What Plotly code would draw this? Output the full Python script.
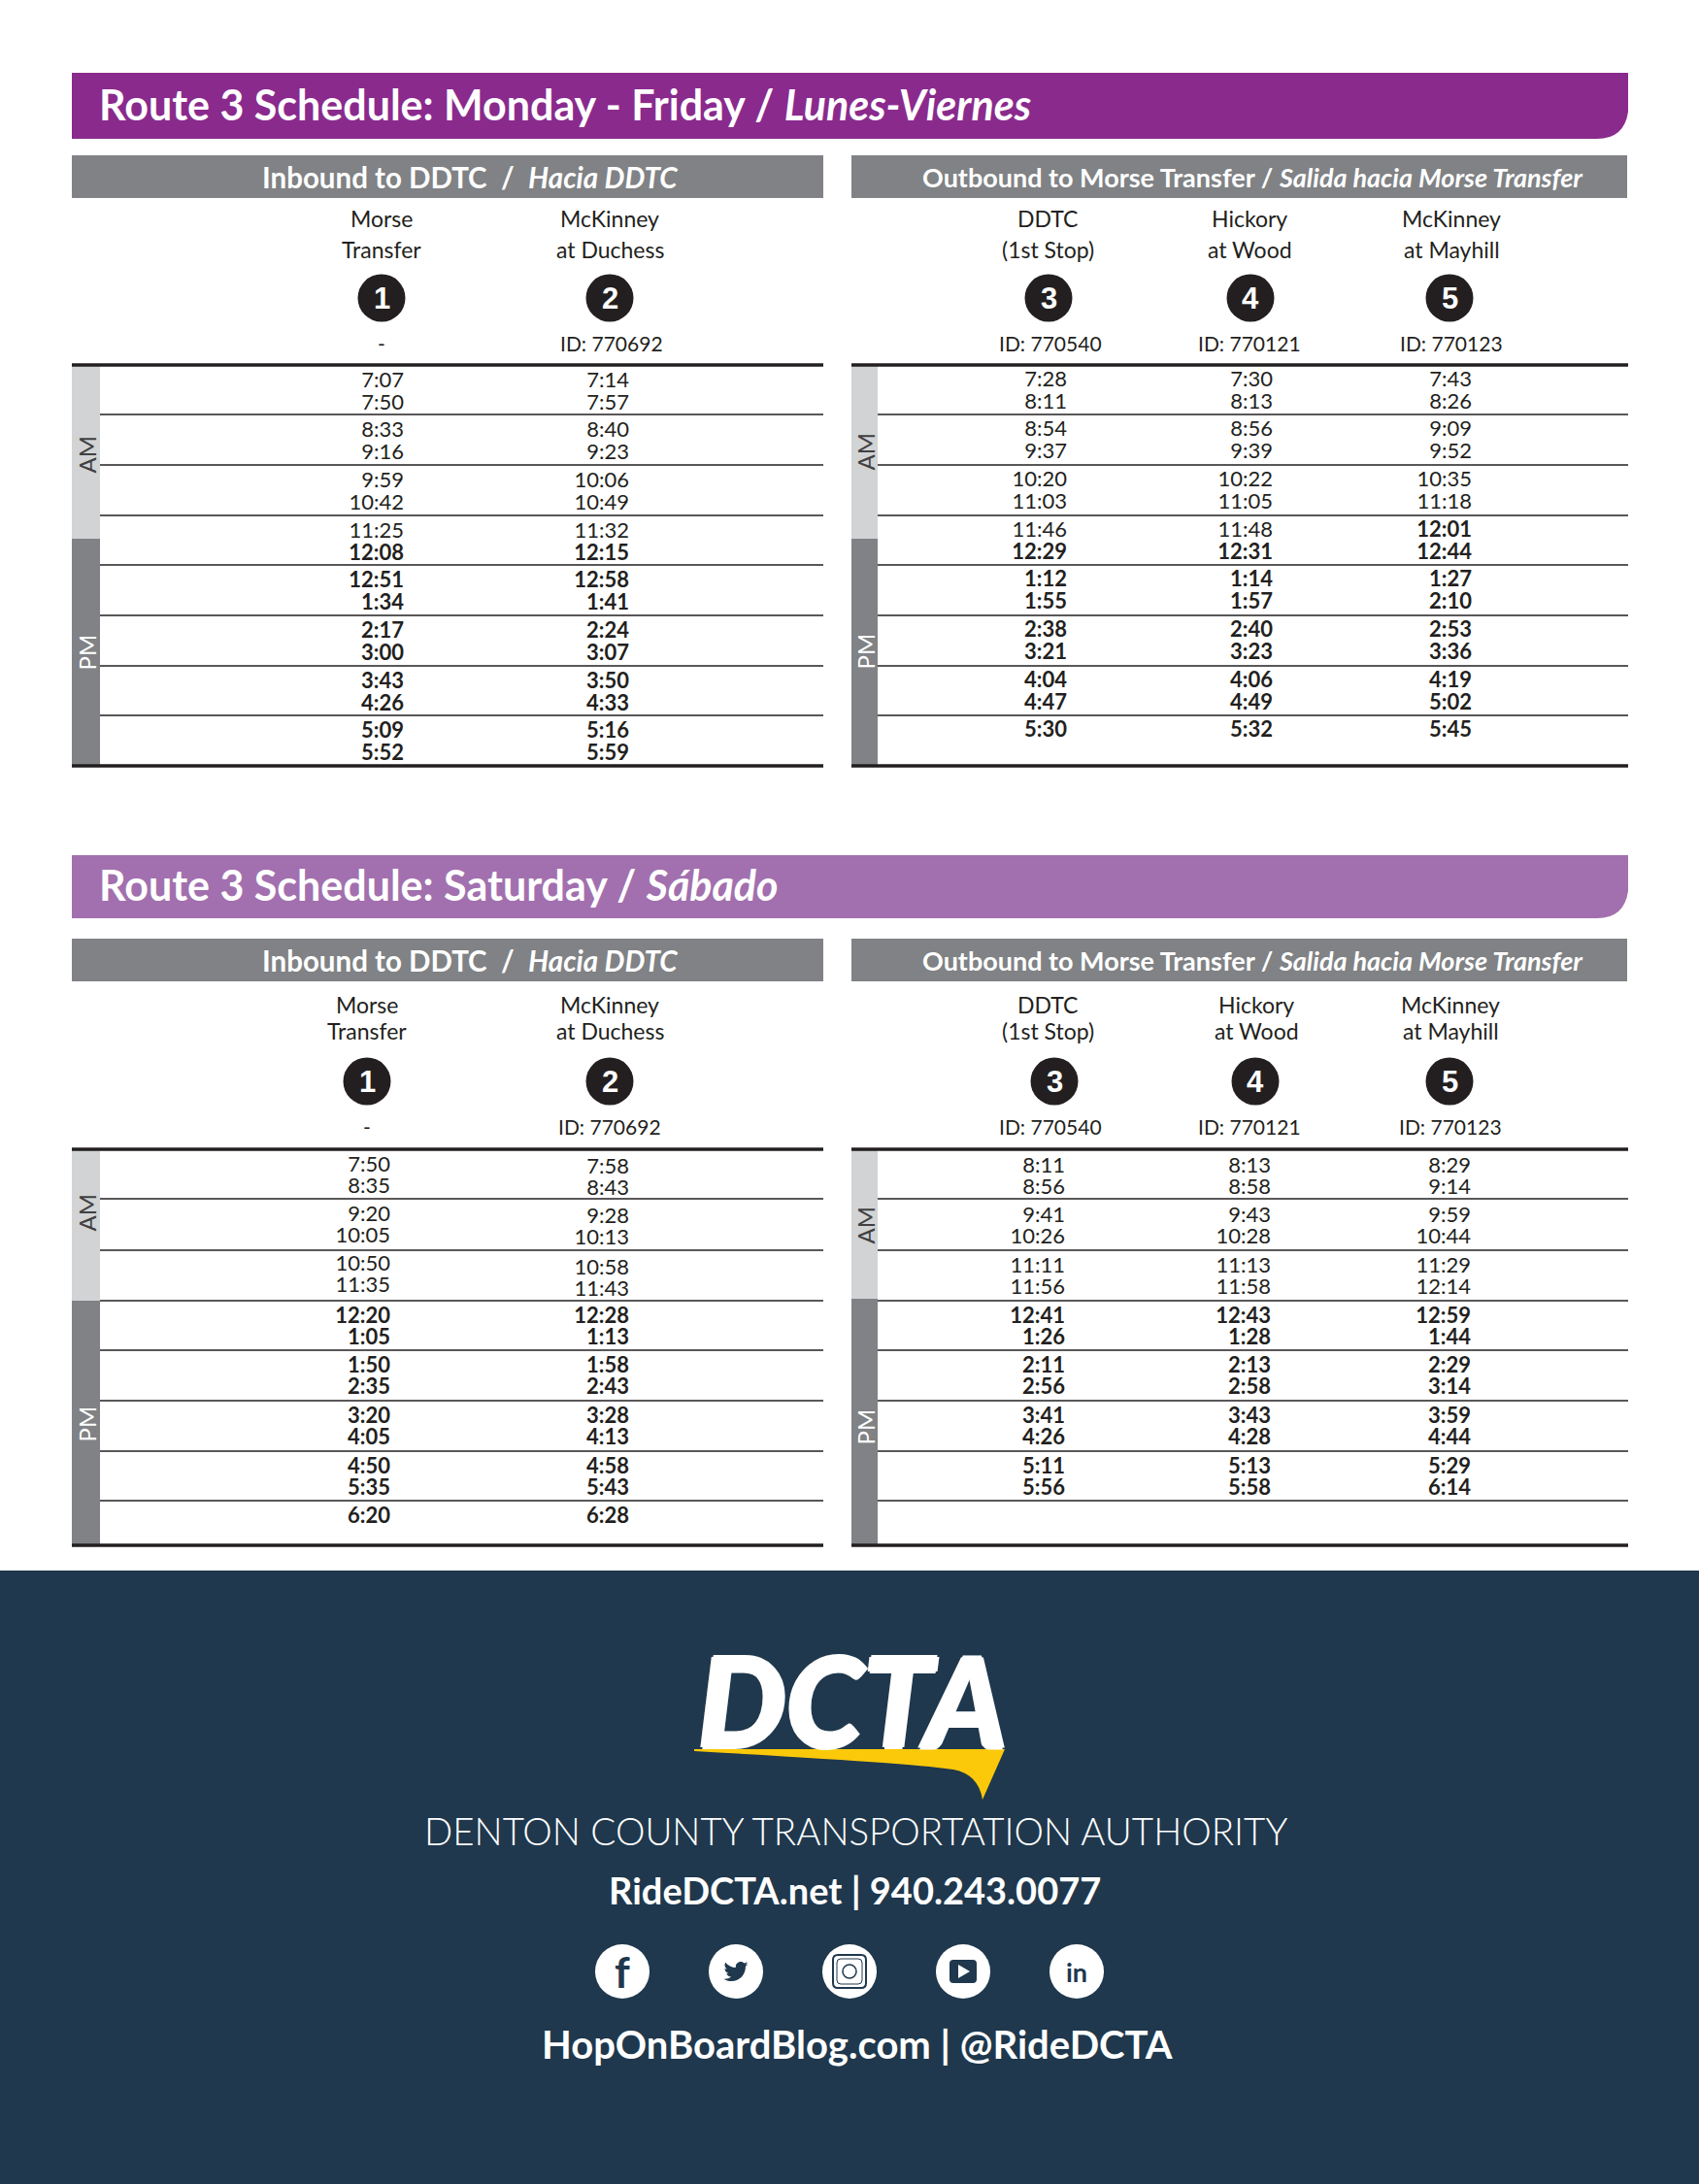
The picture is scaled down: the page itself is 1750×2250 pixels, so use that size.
import plotly.express as px
import pandas as pd

FONT = "Lato"
INK = "#231F20"
GREY = "#808285"
LIGHT = "#D1D3D4"
NAVY = "#1F384D"
GOLD = "#FBC90A"

BIRD = ("M24 4.6 C23.1 5 22.2 5.3 21.2 5.4 C22.2 4.8 23 3.8 23.4 2.7 C22.4 3.3 21.4 3.7 20.3 3.9 "
        "C19.4 2.9 18.1 2.3 16.7 2.3 C14 2.3 11.8 4.5 11.8 7.2 C11.8 7.6 11.8 8 11.9 8.3 "
        "C7.8 8.1 4.2 6.2 1.7 3.1 C1.3 3.8 1 4.6 1 5.5 C1 7.2 1.9 8.7 3.2 9.6 C2.4 9.6 1.6 9.4 1 9 "
        "L1 9.1 C1 11.5 2.7 13.4 4.9 13.9 C4.1 14.1 3.3 14.1 2.7 14 C3.3 16 5.1 17.4 7.3 17.4 "
        "C5.6 18.7 3.5 19.5 1.2 19.5 C0.8 19.5 0.4 19.5 0 19.4 C2.2 20.8 4.8 21.6 7.5 21.6 "
        "C16.6 21.6 21.5 14.1 21.5 7.6 L21.5 7 C22.5 6.3 23.3 5.5 24 4.6 Z")

# Schedules, times in reading order, bold from "pm" on
WEEKDAY = dict(
    banner="Route 3 Schedule: Monday - Friday / <i>Lunes-Viernes</i>", color="#8A2A8D", top=75, bottom=143,
    head_top=160, head_bottom=204, name_y=(225, 257), dot_y=307, id_y=353, rule=376, end=789,
    rows=[376, 427, 479, 531, 582, 634, 686, 737],
    split=(555, 555), am_y=(468, 465), pm_y=(672, 671), first=17, second=40,
    columns=[
        dict(name=("Morse", "Transfer"), num=1, stop="-", cx=393, nx=393, idx=393, right=416, pm=7, nudge=[0] * 8,
             times="7:07 7:50 8:33 9:16 9:59 10:42 11:25 12:08 12:51 1:34 2:17 3:00 3:43 4:26 5:09 5:52"),
        dict(name=("McKinney", "at Duchess"), num=2, stop="ID: 770692", cx=628, nx=628, idx=630, right=648, pm=7,
             nudge=[0] * 8,
             times="7:14 7:57 8:40 9:23 10:06 10:49 11:32 12:15 12:58 1:41 2:24 3:07 3:50 4:33 5:16 5:59"),
        dict(name=("DDTC", "(1st Stop)"), num=3, stop="ID: 770540", cx=1080, nx=1079, idx=1082, right=1099, pm=7,
             nudge=[-1] * 8,
             times="7:28 8:11 8:54 9:37 10:20 11:03 11:46 12:29 1:12 1:55 2:38 3:21 4:04 4:47 5:30"),
        dict(name=("Hickory", "at Wood"), num=4, stop="ID: 770121", cx=1288, nx=1287, idx=1287, right=1311, pm=7,
             nudge=[-1] * 8,
             times="7:30 8:13 8:56 9:39 10:22 11:05 11:48 12:31 1:14 1:57 2:40 3:23 4:06 4:49 5:32"),
        dict(name=("McKinney", "at Mayhill"), num=5, stop="ID: 770123", cx=1493, nx=1495, idx=1495, right=1516, pm=6,
             nudge=[-1] * 8,
             times="7:43 8:26 9:09 9:52 10:35 11:18 12:01 12:44 1:27 2:10 2:53 3:36 4:19 5:02 5:45"),
    ])

SATURDAY = dict(
    banner="Route 3 Schedule: Saturday / <i>Sábado</i>", color="#A270AE", top=881, bottom=946,
    head_top=967, head_bottom=1011, name_y=(1035, 1062), dot_y=1114, id_y=1160, rule=1184, end=1592,
    rows=[1184, 1235, 1288, 1340, 1391, 1443, 1495, 1546],
    split=(1340, 1338), am_y=(1249, 1262), pm_y=(1467, 1470), first=17, second=39,
    columns=[
        dict(name=("Morse", "Transfer"), num=1, stop="-", cx=378, nx=378, idx=378, right=402, pm=6,
             nudge=[0, 0, -2, 0, 0, 0, 0, 0],
             times="7:50 8:35 9:20 10:05 10:50 11:35 12:20 1:05 1:50 2:35 3:20 4:05 4:50 5:35 6:20"),
        dict(name=("McKinney", "at Duchess"), num=2, stop="ID: 770692", cx=628, nx=628, idx=628, right=648, pm=6,
             nudge=[2, 2, 2, 0, 0, 0, 0, 0],
             times="7:58 8:43 9:28 10:13 10:58 11:43 12:28 1:13 1:58 2:43 3:28 4:13 4:58 5:43 6:28"),
        dict(name=("DDTC", "(1st Stop)"), num=3, stop="ID: 770540", cx=1086, nx=1079, idx=1082, right=1097, pm=6,
             nudge=[1, 1, 0, 0, 0, 0, 0, 0],
             times="8:11 8:56 9:41 10:26 11:11 11:56 12:41 1:26 2:11 2:56 3:41 4:26 5:11 5:56"),
        dict(name=("Hickory", "at Wood"), num=4, stop="ID: 770121", cx=1293, nx=1294, idx=1287, right=1309, pm=6,
             nudge=[1, 1, 0, 0, 0, 0, 0, 0],
             times="8:13 8:58 9:43 10:28 11:13 11:58 12:43 1:28 2:13 2:58 3:43 4:28 5:13 5:58"),
        dict(name=("McKinney", "at Mayhill"), num=5, stop="ID: 770123", cx=1493, nx=1494, idx=1494, right=1515, pm=6,
             nudge=[1, 1, 0, 0, 0, 0, 0, 0],
             times="8:29 9:14 9:59 10:44 11:29 12:14 12:59 1:44 2:29 3:14 3:59 4:44 5:29 6:14"),
    ])


def time_table(schedule):
    rows = []
    for col in schedule["columns"]:
        for i, t in enumerate(col["times"].split()):
            top = schedule["rows"][i // 2] + col["nudge"][i // 2]
            rows.append(dict(
                x=col["right"],
                y=top + (schedule["second"] if i % 2 else schedule["first"]),
                time=f"<b>{t}</b>" if i >= col["pm"] else t))
    return pd.DataFrame(rows)


def label(fig, x, y, text, size, color=INK, angle=0, weight=None, family=FONT):
    fig.add_annotation(x=x, y=y, text=text, showarrow=False, textangle=angle,
                       font=dict(family=family, size=size, color=color, weight=weight))


def box(fig, x0, y0, x1, y1, color):
    fig.add_shape(type="rect", x0=x0, y0=y0, x1=x1, y1=y1, fillcolor=color, line_width=0)


def rule(fig, x0, x1, y, width):
    fig.add_shape(type="line", x0=x0, x1=x1, y0=y, y1=y, line=dict(color=INK, width=width))


def disc(fig, x, y, r, color):
    fig.add_shape(type="circle", x0=x - r, x1=x + r, y0=y - r, y1=y + r, fillcolor=color, line_width=0)


def draw_schedule(fig, s):
    b, t = s["bottom"], s["top"]
    fig.add_shape(type="path", line_width=0, fillcolor=s["color"],
                  path=f"M74 {t} L1677 {t} L1677 {b-28} Q1673 {b} 1645 {b} L74 {b} Z")
    fig.add_annotation(x=100, y=(t + b) / 2 - 2, text=f"<b>{s['banner']}</b>", showarrow=False, xanchor="left",
                       font=dict(family=FONT, size=43, color="white"))

    box(fig, 74, s["head_top"], 848, s["head_bottom"], GREY)
    box(fig, 877, s["head_top"], 1676, s["head_bottom"], GREY)
    mid = (s["head_top"] + s["head_bottom"]) / 2
    label(fig, 484, mid, "<b>Inbound to DDTC  /  <i>Hacia DDTC</i></b>", 29.5, "white")
    label(fig, 1290, mid, "<b>Outbound to Morse Transfer / <i>Salida hacia Morse Transfer</i></b>", 27, "white")

    for col in s["columns"]:
        label(fig, col["nx"], s["name_y"][0], col["name"][0], 23)
        label(fig, col["nx"], s["name_y"][1], col["name"][1], 23)
        disc(fig, col["cx"], s["dot_y"], 24.5, INK)
        label(fig, col["cx"], s["dot_y"], str(col["num"]), 31, "white", weight=700, family="Liberation Sans")
        label(fig, col["idx"], s["id_y"], col["stop"], 21)

    for i, (x0, x1, right) in enumerate([(74, 103, 848), (877, 904, 1677)]):
        box(fig, x0, s["rule"], x1, s["split"][i], LIGHT)
        box(fig, x0, s["split"][i], x1, s["end"], GREY)
        label(fig, (x0 + x1) / 2, s["am_y"][i], "AM", 24, "#414042", angle=-90)
        label(fig, (x0 + x1) / 2, s["pm_y"][i], "PM", 24, "white", angle=-90)
        for y in s["rows"][1:]:
            rule(fig, x1, right, y, 1.3)
        rule(fig, x0, right, s["rule"], 3.5)
        rule(fig, x0, right, s["end"], 3.5)


def rounded(x, y, w, h, r):
    return (f"M{x-w+r} {y-h} L{x+w-r} {y-h} Q{x+w} {y-h} {x+w} {y-h+r} L{x+w} {y+h-r} Q{x+w} {y+h} {x+w-r} {y+h} "
            f"L{x-w+r} {y+h} Q{x-w} {y+h} {x-w} {y+h-r} L{x-w} {y-h+r} Q{x-w} {y-h} {x-w+r} {y-h} Z")


def bird_path(x, y, size):
    # icon is drawn on a 24 by 24 grid
    out, axis = [], 0
    for tok in BIRD.replace("C", "C ").replace("L", "L ").replace("M", "M ").split():
        if tok.isalpha():
            out.append(tok)
        else:
            base = (x if axis == 0 else y) - size / 2
            out.append(f"{base + float(tok) * size / 24:.1f}")
            axis = 1 - axis
    return " ".join(out)


def draw_footer(fig):
    box(fig, 0, 1618, 1750, 2250, NAVY)

    # logo, thickened with a shadow since no font here is that heavy
    fig.add_annotation(x=878, y=1750, text="<i>DCTA</i>", showarrow=False,
                       font=dict(family=FONT, size=128, color="white", weight=900,
                                 shadow="2px 0 0 white, -2px 0 0 white, 0 2px 0 white, 0 -2px 0 white"))
    fig.add_shape(type="path", line_width=0, fillcolor=GOLD,
                  path="M715 1802 L1035 1802 L1012 1854 Q1008 1828 982 1823 Q950 1817 715 1804 Z")

    label(fig, 881, 1886, "DENTON COUNTY TRANSPORTATION AUTHORITY", 38.5, "white", weight=300)
    label(fig, 880, 1947, "<b>RideDCTA.net | 940.243.0077</b>", 38, "white")
    label(fig, 883, 2106, "<b>HopOnBoardBlog.com | @RideDCTA</b>", 40, "white")

    icons = [641, 758, 875, 992, 1109]
    y = 2031
    for x in icons:
        disc(fig, x, y, 28, "white")
    label(fig, icons[0], y, "<b>f</b>", 44, NAVY)
    fig.add_shape(type="path", path=bird_path(icons[1], y, 25), fillcolor=NAVY, line_width=0)
    fig.add_shape(type="path", path=rounded(icons[2], y, 17, 17, 5), line=dict(color=NAVY, width=2))
    fig.add_shape(type="path", path=rounded(icons[2], y, 13, 13, 4), line=dict(color=NAVY, width=1))
    fig.add_shape(type="circle", x0=icons[2] - 7, x1=icons[2] + 7, y0=y - 7, y1=y + 7, line=dict(color=NAVY, width=1.5))
    fig.add_shape(type="path", path=rounded(icons[3], y, 14, 12, 4), fillcolor=NAVY, line_width=0)
    fig.add_shape(type="path", path=f"M{icons[3]-5} {y-7} L{icons[3]+7} {y} L{icons[3]-5} {y+7} Z",
                  fillcolor="white", line_width=0)
    label(fig, icons[4], y, "<b>in</b>", 27, NAVY)


df = pd.concat([time_table(WEEKDAY), time_table(SATURDAY)])

fig = px.scatter(df, x="x", y="y", text="time")
fig.update_traces(mode="text", textposition="middle left", hoverinfo="skip",
                  textfont=dict(family=FONT, size=22, color=INK))

draw_schedule(fig, WEEKDAY)
draw_schedule(fig, SATURDAY)
draw_footer(fig)

fig.update_xaxes(range=[0, 1750], visible=False)
fig.update_yaxes(range=[2250, 0], visible=False)
fig.update_layout(width=1750, height=2250, margin=dict(l=0, r=0, t=0, b=0), showlegend=False,
                  paper_bgcolor="white", plot_bgcolor="white")

fig.write_html("out.html", config=dict(displayModeBar=False), post_script="document.body.style.margin = '0';")
